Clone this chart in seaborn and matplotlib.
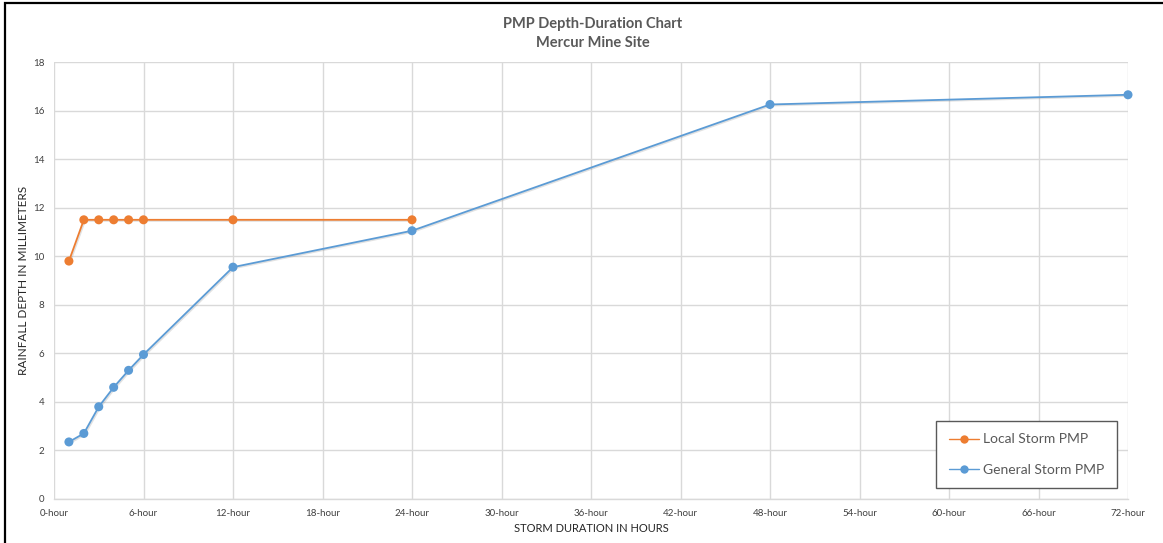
import matplotlib
matplotlib.use("Agg")
import matplotlib.pyplot as plt
import matplotlib.patheffects as pe
import seaborn as sns
import pandas as pd
from matplotlib.patches import Rectangle

# Storm durations (hours) and PMP depths
local_hours = [1, 2, 3, 4, 5, 6, 12, 24]
local_depth = [9.8, 11.5, 11.5, 11.5, 11.5, 11.5, 11.5, 11.5]

general_hours = [1, 2, 3, 4, 5, 6, 12, 24, 48, 72]
general_depth = [2.35, 2.7, 3.8, 4.6, 5.3, 5.95, 9.55, 11.05, 16.25, 16.65]

x_ticks = list(range(0, 73, 6))
x_tick_labels = [f"{h}-hour" for h in x_ticks]
y_ticks = list(range(0, 19, 2))

series_names = ["Local Storm PMP", "General Storm PMP"]
colors = {"Local Storm PMP": "#ED7D31", "General Storm PMP": "#5B9BD5"}

df = pd.concat([
    pd.DataFrame({"hours": local_hours, "depth": local_depth, "series": series_names[0]}),
    pd.DataFrame({"hours": general_hours, "depth": general_depth, "series": series_names[1]}),
])

sns.set_style("whitegrid")
plt.rcParams["font.family"] = ["Lato", "DejaVu Sans"]

fig = plt.figure(figsize=(11.63, 5.43), dpi=100)
ax = fig.add_axes([54 / 1163, 1 - 499 / 543, (1128 - 54) / 1163, (499 - 62) / 543])

sns.lineplot(data=df, x="hours", y="depth", hue="series", hue_order=series_names,
             palette=colors, marker="o", markersize=6.5, markeredgewidth=0,
             linewidth=1.3, ax=ax, legend=False, clip_on=False)

for line in ax.lines:
    line.set_path_effects([pe.SimpleLineShadow(offset=(0.8, -0.8), alpha=0.25, shadow_color="#888888"),
                           pe.Normal()])

ax.set_xlim(0, 72)
ax.set_ylim(0, 18)
ax.set_xticks(x_ticks)
ax.set_xticklabels(x_tick_labels)
ax.set_yticks(y_ticks)
ax.tick_params(axis="both", labelsize=7, colors="#404040", length=0, pad=7)
ax.grid(True, color="#d9d9d9", linewidth=1.0)
for side, sp in ax.spines.items():
    sp.set_visible(side == "bottom")
    sp.set_color("#d9d9d9")
    sp.set_linewidth(1.0)

ax.set_xlabel("STORM DURATION IN HOURS", fontsize=8, color="#262626", labelpad=4)
ax.set_ylabel("RAINFALL DEPTH IN MILLIMETERS", fontsize=8.5, color="#262626", labelpad=3)

fig.text(593 / 1163, 1 - 24 / 543, "PMP Depth-Duration Chart", ha="center", va="center",
         fontsize=10.5, fontweight="bold", color="#595959")
fig.text(593 / 1163, 1 - 43 / 543, "Mercur Mine Site", ha="center", va="center",
         fontsize=10.5, fontweight="bold", color="#595959")

# Legend with line+marker handles
handles = [plt.Line2D([0], [0], color=colors[s], marker="o", markersize=6,
                      markeredgewidth=0, linewidth=1.0) for s in series_names]
leg = ax.legend(handles, series_names, loc="lower right",
                bbox_to_anchor=(1117 / 1163, 1 - 488 / 543, 0, 0),
                bbox_transform=fig.transFigure, fontsize=10, frameon=True,
                fancybox=False, edgecolor="#595959", framealpha=1,
                borderpad=0.9, labelspacing=1.3, handlelength=2.2,
                handletextpad=0.3, borderaxespad=0)
for t in leg.get_texts():
    t.set_color("#595959")
leg.get_frame().set_linewidth(1.0)

# Outer frame
fig.patches.append(Rectangle((5 / 1163, -0.01), 1.05, 1 - 2.5 / 543 + 0.01,
                             transform=fig.transFigure, fill=False,
                             edgecolor="#000000", linewidth=1.6))

fig.savefig("out.png", dpi=100)
